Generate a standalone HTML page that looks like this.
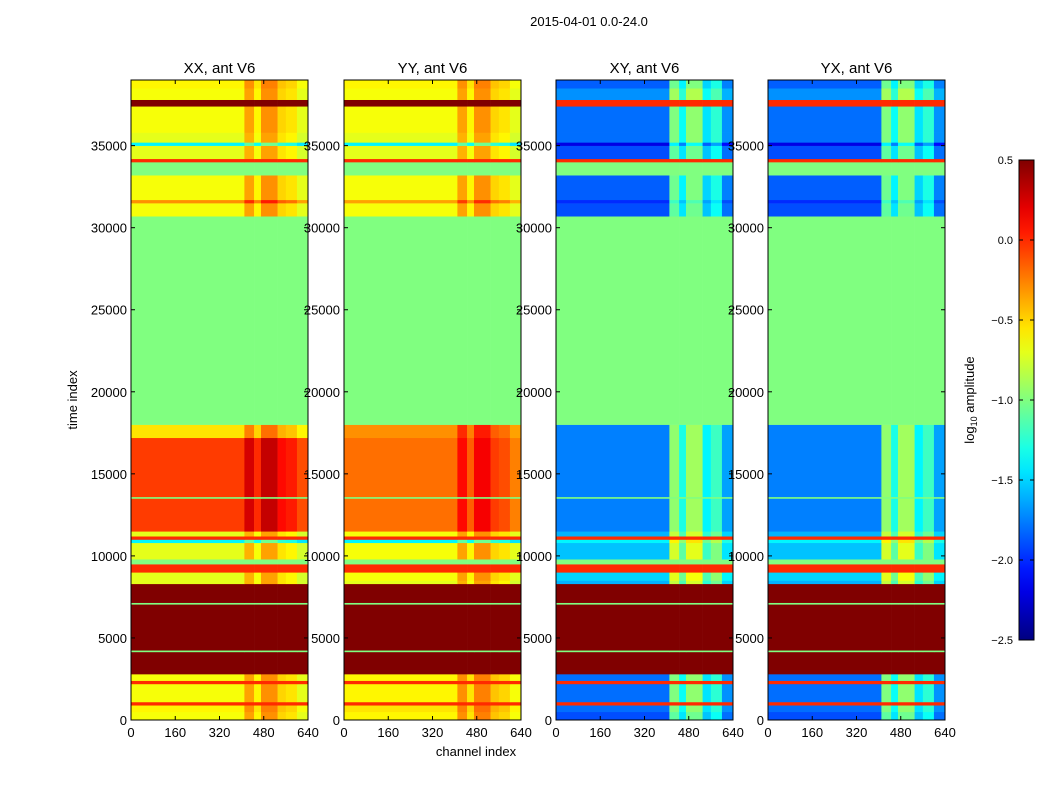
<!DOCTYPE html>
<html><head><meta charset="utf-8"><style>
body{margin:0;background:#fff;}
svg{display:block;font-family:"Liberation Sans",sans-serif;}
</style></head><body>
<svg id="fig" width="1050" height="800">
<text x="589" y="26" font-size="13" text-anchor="middle">2015-04-01 0.0-24.0</text>
<text x="77" y="400" font-size="13" text-anchor="middle" transform="rotate(-90 77 400)">time index</text>
<text x="476" y="756" font-size="13" text-anchor="middle">channel index</text>
<g id="panels"></g>
<g id="cbar"></g>
</svg>
<script>
// time bands (time index start of each row band; last band ends at tMax)
const rowStart = [0,500,900,1100,2200,2400,2800,4150,4250,7050,7150,8300,8500,9000,9500,9800,10800,11000,11200,11500,13500,13600,17200,18000,30700,31500,31700,33200,34000,34200,35000,35200,35800,37400,37800,38500];
const rowMod   = [1,1,0,1,0,1,0,0,0,0,0,1,1,0,0,1,1,0,1,1,0,1,1,0,1,1,1,0,0,1,1,1,1,0,1,1];
const valXX = [-0.65,-0.6,0.0,-0.65,0.0,-0.65,0.5,-1.0,0.5,-1.0,0.5,-0.7,-0.7,0.0,-1.0,-0.7,-1.4,0.0,-0.7,-0.05,-1.0,-0.05,-0.55,-1.0,-0.65,-0.3,-0.65,-1.0,0.0,-0.7,-1.4,-0.7,-0.65,0.5,-0.65,-0.6];
const valYY = [-0.6,-0.55,0.0,-0.6,0.0,-0.6,0.5,-1.0,0.5,-1.0,0.5,-0.7,-0.65,0.0,-1.0,-0.65,-1.4,0.0,-0.65,-0.2,-1.0,-0.2,-0.3,-1.0,-0.65,-0.35,-0.65,-1.0,0.0,-0.7,-1.4,-0.7,-0.65,0.5,-0.65,-0.6];
const valXY = [-1.9,-1.8,0.0,-1.8,0.0,-1.8,0.5,-1.0,0.5,-1.0,0.5,-1.6,-1.5,0.0,-1.0,-1.55,-1.4,0.0,-1.6,-1.75,-1.0,-1.75,-1.75,-1.0,-1.9,-2.0,-1.85,-1.0,0.0,-1.9,-2.2,-1.8,-1.8,0.0,-1.7,-1.85];
const valYX = [-1.9,-1.8,0.0,-1.8,0.0,-1.8,0.5,-1.0,0.5,-1.0,0.5,-1.6,-1.5,0.0,-1.0,-1.55,-1.4,0.0,-1.6,-1.75,-1.0,-1.75,-1.75,-1.0,-1.9,-2.0,-1.85,-1.0,0.0,-1.9,-2.2,-1.8,-1.8,0.0,-1.7,-1.85];
// channel segments and per-segment modulation
const chanEdges = [0,410,445,470,530,560,600,640];
const modPar   = [0,0.3,0.05,0.35,0.15,0.1,-0.05];
const modCross = [0,0.8,0.45,0.85,0.35,0.55,0.1];
const xTicks = [0,160,320,480,640];
const yTicks = [0,5000,10000,15000,20000,25000,30000,35000];
const cbTicks = [0.5,0.0,-0.5,-1.0,-1.5,-2.0,-2.5];
const cbLabels = ["0.5","0.0","\u22120.5","\u22121.0","\u22121.5","\u22122.0","\u22122.5"];
const titles = ["XX, ant V6","YY, ant V6","XY, ant V6","YX, ant V6"];
const tMax = 39000, cMax = 640, vMin = -2.5, vMax = 0.5;

const panelX = [131,344,556,768], pw = 177, pTop = 80, pBot = 720;
const NS = "http://www.w3.org/2000/svg";
function el(t,a,p){const e=document.createElementNS(NS,t);for(const k in a)e.setAttribute(k,a[k]);p.appendChild(e);return e;}
function cl(x){return Math.max(0,Math.min(1,x));}
function jet(v){const x=cl((v-vMin)/(vMax-vMin));
  const r=cl(1.5-Math.abs(4*x-3)),g=cl(1.5-Math.abs(4*x-2)),b=cl(1.5-Math.abs(4*x-1));
  return `rgb(${Math.round(r*255)},${Math.round(g*255)},${Math.round(b*255)})`;}
const panels=document.getElementById('panels');
const series=[valXX,valYY,valXY,valYX];
series.forEach((vals,pi)=>{
  const x0=panelX[pi];
  const xs=c=>x0+c/cMax*pw, ys=t=>pBot-t/tMax*(pBot-pTop);
  const g=el('g',{},panels);
  
  
  const mod = pi<2?modPar:modCross;
  for(let i=0;i<rowStart.length;i++){
    const t0=rowStart[i], t1=i+1<rowStart.length?rowStart[i+1]:tMax;
    for(let j=0;j<chanEdges.length-1;j++){
      const v=vals[i]+(rowMod[i]?mod[j]:0);
      const r=el('rect',{x:xs(chanEdges[j]),y:ys(t1),width:xs(chanEdges[j+1])-xs(chanEdges[j])+0.3,height:ys(t0)-ys(t1)+0.3,fill:jet(v)},g);
      
      
    }
  }
  const fr=el('rect',{x:x0,y:pTop,width:pw,height:pBot-pTop,fill:'none',stroke:'#000','stroke-width':1},g);
  
  
  const tt=el('text',{x:x0+pw/2,y:73,'font-size':15,'text-anchor':'middle'},g);tt.textContent=titles[pi];
  
  
  xTicks.forEach(c=>{const X=xs(c);
    el('line',{x1:X,x2:X,y1:pBot,y2:pBot-4,stroke:'#000'},g);el('line',{x1:X,x2:X,y1:pTop,y2:pTop+4,stroke:'#000'},g);
    const l=el('text',{x:X,y:737,'font-size':13,'text-anchor':'middle'},g);l.textContent=c;
    
    });
  yTicks.forEach(t=>{const Y=ys(t);
    el('line',{x1:x0,x2:x0+4,y1:Y,y2:Y,stroke:'#000'},g);el('line',{x1:x0+pw,x2:x0+pw-4,y1:Y,y2:Y,stroke:'#000'},g);
    const l=el('text',{x:x0-4,y:Y+5,'font-size':13,'text-anchor':'end'},g);l.textContent=t;
    
    });
});
// colorbar
const cb=document.getElementById('cbar');
const cbx=1019,cbw=15,cbTop=160,cbBot=640;
const cy=v=>cbBot-(v-vMin)/(vMax-vMin)*(cbBot-cbTop);
const defs=el('defs',{},cb);const lg=el('linearGradient',{id:'jg',x1:0,y1:1,x2:0,y2:0},defs);
for(let k=0;k<=20;k++){el('stop',{offset:k/20,'stop-color':jet(vMin+k/20*(vMax-vMin))},lg);}
const bar=el('rect',{x:cbx,y:cbTop,width:cbw,height:cbBot-cbTop,fill:'url(#jg)',stroke:'#000'},cb);


cbTicks.forEach((v,i)=>{const Y=cy(v);
  el('line',{x1:cbx,x2:cbx+4,y1:Y,y2:Y,stroke:'#000'},cb);el('line',{x1:cbx+cbw,x2:cbx+cbw-4,y1:Y,y2:Y,stroke:'#000'},cb);
  const l=el('text',{x:1013,y:Y+4,'font-size':11,'text-anchor':'end'},cb);l.textContent=cbLabels[i];
  
  });
const ct=el('text',{x:974,y:400,'font-size':13,'text-anchor':'middle',transform:'rotate(-90 974 400)'},cb);
ct.innerHTML='log<tspan font-size="9" dy="3">10</tspan><tspan dy="-3"> amplitude</tspan>';


</script>
</body></html>
